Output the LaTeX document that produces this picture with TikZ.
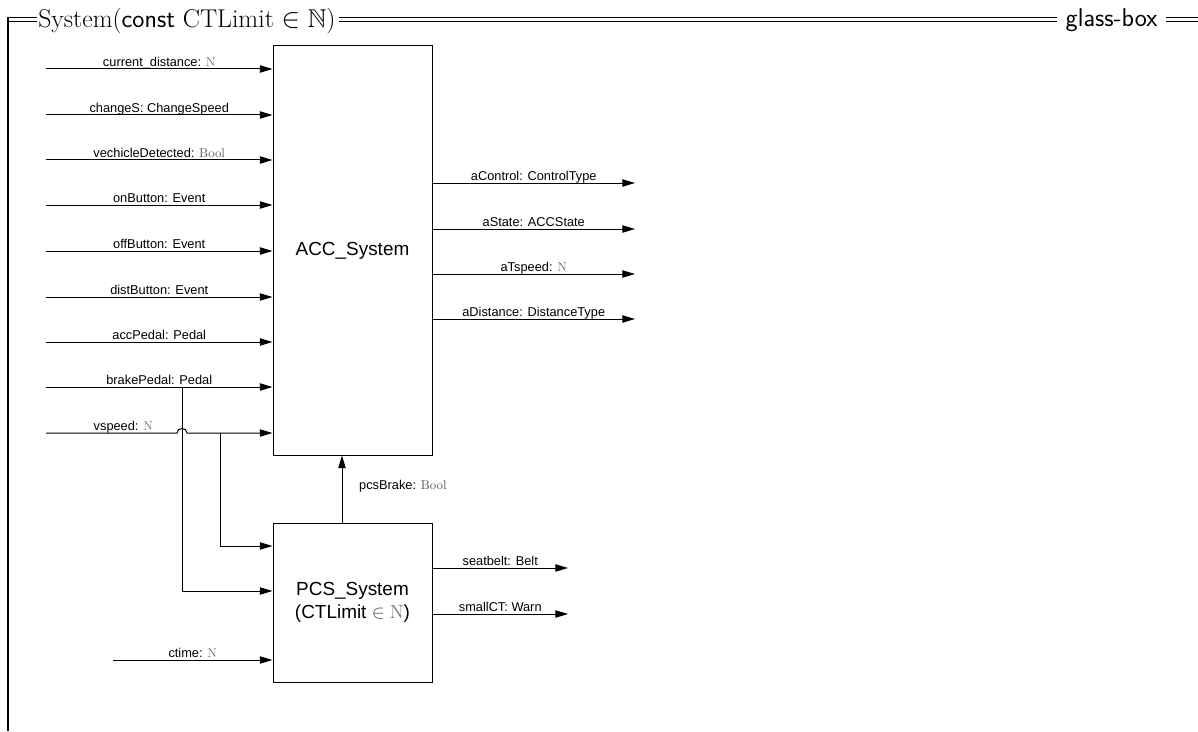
\documentclass[tikz,border=0pt]{standalone}
\usepackage{fontspec}
\usepackage{amssymb}
\usetikzlibrary{arrows.meta}
\newfontfamily\arialf{Liberation Sans}
\newcommand{\gN}{{\color{black!55}\rmfamily N}}
\newcommand{\gBool}{{\color{black!65}\rmfamily Bool}}
\begin{document}
\begin{tikzpicture}[x=0.75pt,y=-0.75pt,
  conn/.style={line width=0.75pt,-{Triangle[length=9.5pt,width=5.5pt]}},
  lab/.style={font=\arialf\fontsize{9.6}{11}\selectfont,anchor=base,inner sep=0pt,yshift=2.2pt},
  blk/.style={draw,line width=0.75pt,inner sep=0pt,font=\arialf\fontsize{14.2}{17}\selectfont,align=center},
  frameline/.style={line width=0.6pt},
  ttl/.style={anchor=base west,inner sep=0pt,outer ysep=0pt,outer xsep=2.5pt,font=\fontsize{19.3}{22}\selectfont}]
\useasboundingbox (0,0) rectangle (1198,731);

% frame header
\node[ttl,outer xsep=1pt] (title) at (37,28) {System(\textsf{const} CTLimit $\in\mathbb{N}$)};
\node[ttl,outer xsep=6.5pt,font=\sffamily\fontsize{19.3}{22}\selectfont] (gb) at (1057,27) {glass-box};
\draw[frameline] (7.5,17.5) -- (title.west |- 0,17.5);
\draw[frameline] (9,21.5) -- (title.west |- 0,21.5);
\draw[frameline] ([xshift=2pt]title.east |- 0,17.5) -- (gb.west |- 0,17.5);
\draw[frameline] ([xshift=2pt]title.east |- 0,21.5) -- (gb.west |- 0,21.5);
\draw[frameline] (gb.east |- 0,17.5) -- (1198,17.5);
\draw[frameline] (gb.east |- 0,21.5) -- (1198,21.5);
\draw[line width=1pt] (8,17.2) -- (8,731);

% blocks
\node[blk,minimum width=119.25pt,minimum height=306.75pt] (acc) at (352.5,250.5) {ACC\_System};
\node[blk,minimum width=119.25pt,minimum height=119.25pt] (pcs) at (352.5,602.5) {PCS\_System\\(CTLimit {\color{black!70}$\in$} \gN)};

% inputs to ACC
\foreach \y/\n/\t in {69/i1/{current\_distance: \gN},
                      115/i2/{changeS: ChangeSpeed},
                      160/i3/{vechicleDetected: \gBool},
                      205/i4/{onButton: Event},
                      251/i5/{offButton: Event},
                      297/i6/{distButton: Event},
                      342/i7/{accPedal: Pedal},
                      387/i8/{brakePedal: Pedal}}{
  \coordinate (\n) at (46,\y);
  \draw[conn] (\n) -- (\n -| acc.west) node[lab,midway] {\t};
}
\coordinate (i9) at (46,433);
\coordinate (h1) at (177,433);
\coordinate (h2) at (187,433);
\draw[conn] (i9) -- (h1) node[lab,pos=0.59] {vspeed: \gN}
  .. controls (177,427) and (187,427) .. (h2) -- (i9 -| acc.west);

% branches to PCS
\coordinate (vs) at (220,433);
\draw[conn] (vs) |- (pcs.west |- 0,546);
\coordinate (bp) at (182,387);
\draw[conn] (bp) |- (pcs.west |- 0,591);
\coordinate (ct) at (113,660);
\draw[conn] (ct) -- (ct -| pcs.west) node[lab,midway] {ctime: \gN};

% pcsBrake
\draw[conn] (pcs.north -| 342,0) -- (acc.south -| 342,0)
  node[lab,midway,anchor=west,xshift=12.5pt,yshift=0pt] {pcsBrake: \gBool};

% ACC outputs
\foreach \y/\n/\t in {183/o1/{aControl: ControlType},
                      229/o2/{aState: ACCState},
                      274/o3/{aTspeed: \gN},
                      319/o4/{aDistance: DistanceType}}{
  \coordinate (\n) at (635,\y);
  \draw[conn] (acc.east |- \n) -- (\n) node[lab,midway] {\t};
}

% PCS outputs
\coordinate (p1) at (568,568);
\coordinate (p2) at (568,614);
\draw[conn] (pcs.east |- p1) -- (p1) node[lab,midway] {seatbelt: Belt};
\draw[conn] (pcs.east |- p2) -- (p2) node[lab,midway] {smallCT: Warn};
\end{tikzpicture}
\end{document}
